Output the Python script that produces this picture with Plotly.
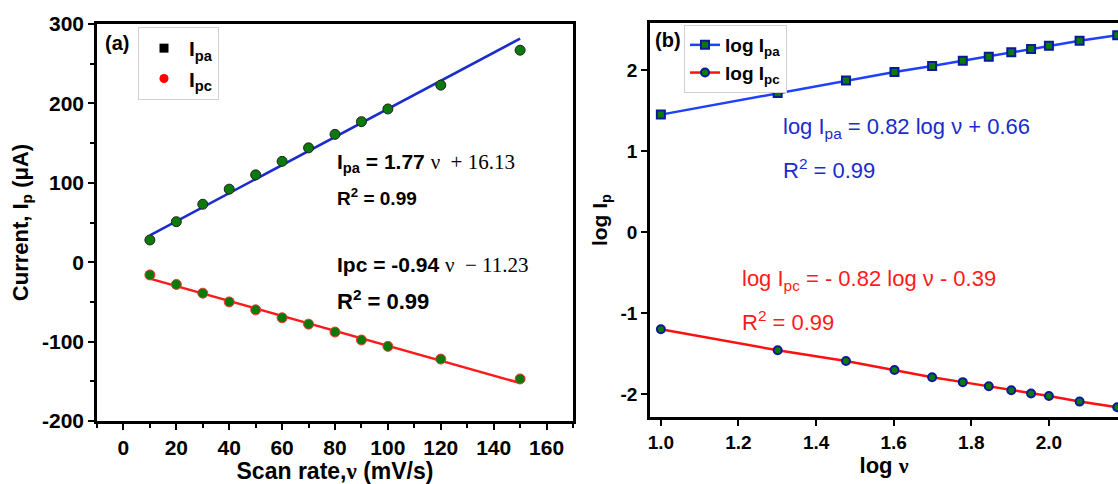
import plotly.graph_objects as go

# ---------------- data ----------------
scan_rate = [10, 20, 30, 40, 50, 60, 70, 80, 90, 100, 120, 150]
ipa = [28, 51, 73, 92, 110, 127, 144, 161, 177, 193, 223, 267]
ipc = [-16, -28, -39, -50, -60, -70, -78, -88, -98, -106, -122, -147]

fit_pa_slope, fit_pa_icpt = 1.77, 16.13
fit_pc_slope, fit_pc_icpt = -0.94, -11.23

log_v = [1.0, 1.301, 1.477, 1.602, 1.699, 1.778, 1.845, 1.903, 1.954, 2.0, 2.079, 2.176]
log_ipa = [1.45, 1.716, 1.87, 1.975, 2.05, 2.115, 2.165, 2.22, 2.26, 2.30, 2.36, 2.43]
log_ipc = [-1.198, -1.457, -1.59, -1.70, -1.79, -1.85, -1.90, -1.95, -1.99, -2.02, -2.09, -2.16]

xa_ticks = [0, 20, 40, 60, 80, 100, 120, 140, 160]
ya_ticks = [-200, -100, 0, 100, 200, 300]
ya_labels = ["-200", "-100", "0", "100", "200", "300"]
xb_ticks = [1.0, 1.2, 1.4, 1.6, 1.8, 2.0]
xb_labels = ["1.0", "1.2", "1.4", "1.6", "1.8", "2.0"]
yb_ticks = [-2, -1, 0, 1, 2]
yb_labels = ["-2", "-1", "0", "1", "2"]

W, H = 1118, 484
FONT = "Liberation Sans, Arial, sans-serif"

fig = go.Figure()

# fit lines (panel a)
fx = [scan_rate[0], scan_rate[-1]]
fig.add_trace(go.Scatter(x=fx, y=[fit_pa_slope * v + fit_pa_icpt for v in fx], mode="lines",
                         line=dict(color="#1a2ccc", width=2.5), showlegend=False,
                         xaxis="x", yaxis="y"))
fig.add_trace(go.Scatter(x=fx, y=[fit_pc_slope * v + fit_pc_icpt for v in fx], mode="lines",
                         line=dict(color="#ff1a1a", width=2.5), showlegend=False,
                         xaxis="x", yaxis="y"))
# data points (panel a)
fig.add_trace(go.Scatter(x=scan_rate, y=ipa, mode="markers",
                         marker=dict(symbol="circle", size=10, color="#0a7a0a",
                                     line=dict(color="#222222", width=1)),
                         showlegend=False, cliponaxis=False, xaxis="x", yaxis="y"))
fig.add_trace(go.Scatter(x=scan_rate, y=ipc, mode="markers",
                         marker=dict(symbol="circle", size=10, color="#0a7a0a",
                                     line=dict(color="#ff3030", width=1)),
                         showlegend=False, cliponaxis=False, xaxis="x", yaxis="y"))
# legend-only entries (panel a)
fig.add_trace(go.Scatter(x=[None], y=[None], mode="markers", name="I<sub>pa</sub>",
                         marker=dict(symbol="square", size=9, color="black"),
                         legend="legend", xaxis="x", yaxis="y"))
fig.add_trace(go.Scatter(x=[None], y=[None], mode="markers", name="I<sub>pc</sub>",
                         marker=dict(symbol="circle", size=9, color="red"),
                         legend="legend", xaxis="x", yaxis="y"))

# panel b
fig.add_trace(go.Scatter(x=log_v, y=log_ipa, mode="lines+markers", name="log I<sub>pa</sub>",
                         line=dict(color="#2040ff", width=2.5),
                         marker=dict(symbol="square", size=8, color="#0a7a0a",
                                     line=dict(color="#0a1a9a", width=2)),
                         legend="legend2", cliponaxis=False, xaxis="x2", yaxis="y2"))
fig.add_trace(go.Scatter(x=log_v, y=log_ipc, mode="lines+markers", name="log I<sub>pc</sub>",
                         line=dict(color="#ff1010", width=2.5),
                         marker=dict(symbol="circle", size=8, color="#0a7a0a",
                                     line=dict(color="#0a1a9a", width=2)),
                         legend="legend2", cliponaxis=False, xaxis="x2", yaxis="y2"))

def axis_common(size):
    return dict(showline=True, linecolor="black", linewidth=2.5, ticks="outside",
                ticklen=6, tickwidth=2, tickcolor="black", showgrid=False, zeroline=False,
                automargin=False,
                tickfont=dict(family=FONT, size=size, color="black", weight="bold"))

minor_style = dict(ticks="outside", ticklen=4, tickwidth=2, tickcolor="black")

fig.update_layout(
    template="none",
    width=W, height=H, margin=dict(l=0, r=0, t=0, b=0, pad=0, autoexpand=False),
    paper_bgcolor="white", plot_bgcolor="white",
    font=dict(family=FONT, color="black"),
    xaxis=dict(domain=[97 / W, 573 / W], range=[-10, 170],
               tickvals=xa_ticks, ticktext=[str(t) for t in xa_ticks],
               mirror=True, minor=dict(dtick=10, tick0=0, **minor_style),
               title=dict(text="Scan rate,<span style='font-family:Liberation Serif'>ν</span> (mV/s)",
                          standoff=4, font=dict(family=FONT, size=23, weight="bold")),
               anchor="y", **axis_common(21)),
    yaxis=dict(domain=[1 - 421 / H, 1 - 24 / H], range=[-200, 300],
               tickvals=ya_ticks, ticktext=ya_labels,
               mirror=True, minor=dict(dtick=50, tick0=0, **minor_style),
               title=dict(text="Current, I<sub>p</sub> (μA)", standoff=8,
                          font=dict(family=FONT, size=22, weight="bold")),
               anchor="x", **axis_common(21)),
    xaxis2=dict(domain=[650 / W, 1.0], range=[0.972, 2.178],
                tickvals=xb_ticks, ticktext=xb_labels, mirror=True,
                title=dict(text="log <span style='font-family:Liberation Serif'>ν</span>", standoff=4,
                           font=dict(family=FONT, size=22, weight="bold")),
                anchor="y2", **axis_common(19)),
    yaxis2=dict(domain=[1 - 417 / H, 1 - 23 / H], range=[-2.28, 2.58],
                tickvals=yb_ticks, ticktext=yb_labels,
                title=dict(text="log I<sub>p</sub>", standoff=8,
                           font=dict(family=FONT, size=21, weight="bold")),
                anchor="x2", **axis_common(19)),
    legend=dict(x=138 / W, y=1 - 27 / H, xanchor="left", yanchor="top",
                bgcolor="white", bordercolor="#d0d0d0", borderwidth=1,
                font=dict(family=FONT, size=21, color="black", weight="bold"),
                itemwidth=40, tracegroupgap=0),
    legend2=dict(x=684 / W, y=1 - 25 / H, xanchor="left", yanchor="top",
                 bgcolor="white", bordercolor="#d0d0d0", borderwidth=1,
                 font=dict(family=FONT, size=19, color="black", weight="bold"),
                 itemwidth=30, tracegroupgap=0),
)

ann = []
def add(text, x, y, size, color="black", bold=False, xanchor="left"):
    ann.append(dict(text=text, x=x / W, y=1 - y / H, xref="paper", yref="paper",
                    xanchor=xanchor, yanchor="middle", showarrow=False,
                    font=dict(family=FONT, size=size, color=color,
                              weight="bold" if bold else "normal")))

add("(a)", 103, 43, 20, bold=True)
add("(b)", 653, 40, 20, bold=True)
add("I<sub>pa</sub> = 1.77 <span style='font-family:Liberation Serif;font-weight:normal'>ν  + 16.13</span>",
    335, 163, 21, bold=True)
add("R<sup>2</sup> = 0.99", 335, 197, 19, bold=True)
add("Ipc = -0.94 <span style='font-family:Liberation Serif;font-weight:normal'>ν  − 11.23</span>",
    335, 265, 21, bold=True)
add("R<sup>2</sup> = 0.99", 335, 300, 22, bold=True)

add("log I<sub>pa</sub> = 0.82 log ν + 0.66", 781, 128, 22, color="#1a2ccc")
add("R<sup>2</sup> = 0.99", 781, 169, 22, color="#1a2ccc")
add("log I<sub>pc</sub> = - 0.82 log ν - 0.39", 740, 280, 22, color="#ff1a1a")
add("R<sup>2</sup> = 0.99", 740, 321, 22, color="#ff1a1a")

fig.update_layout(annotations=ann)
fig.write_html("out.html")
